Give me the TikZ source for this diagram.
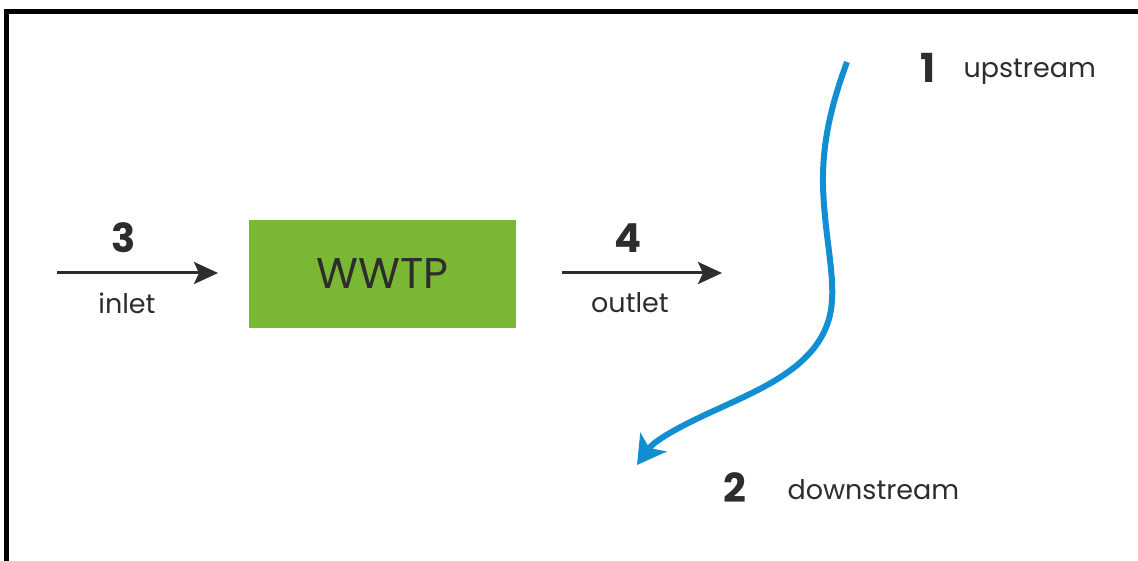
\documentclass[tikz,border=0pt]{standalone}
\usepackage{fontspec}
\setmainfont{Poppins}
\usetikzlibrary{arrows.meta}
\definecolor{wwtpgreen}{RGB}{122,184,51}
\definecolor{riverblue}{RGB}{18,142,210}
\definecolor{textgray}{RGB}{45,45,45}
\tikzset{
  flow/.style={line width=3pt, draw=textgray, -{Stealth[length=24pt,width=22pt,inset=5pt]}},
  num/.style={font=\fontsize{40}{40}\selectfont\bfseries, text=textgray},
  lbl/.style={font=\fontsize{27}{27}\selectfont, text=textgray}
}
\begin{document}
\begin{tikzpicture}[x=1pt,y=-1pt]
    \useasboundingbox (0,0) rectangle (1138,561);
    % frame, open at the right and bottom
    \draw[line width=5pt] (6.5,561) -- (6.5,11.5) -- (1138,11.5);
    % plant
    \node (plant) [fill=wwtpgreen, minimum width=267pt, minimum height=108pt,
      font=\fontsize{43}{43}\selectfont, text=textgray] at (382.5,274) {WWTP};
    % inlet and outlet
    \coordinate (inA) at (57,273);
    \coordinate (inB) at (218,273);
    \coordinate (outA) at (562,273);
    \coordinate (outB) at (722,273);
    \draw[flow] (inA) -- (inB);
    \draw[flow] (outA) -- (outB);
    \node (n3) [num] at (124,238) {3};
    \node (inlet) [lbl] at (127,303) {inlet};
    \node (n4) [num] at (628,238) {4};
    \node (outlet) [lbl] at (630,303) {outlet};
    % river
    \coordinate (up) at (847,62);
    \coordinate (down) at (637,465);
    \draw[line width=6pt, draw=riverblue, -{Stealth[length=28pt,width=32pt,inset=7pt]}]
      (up) .. controls (833,100) and (822,140) .. (823,185)
      .. controls (824,230) and (834,270) .. (832,300)
      .. controls (829,360) and (770,385) .. (720,408)
      .. controls (680,426) and (655,440) .. (down);
    \node (n1) [num] at (928,68) {1};
    \node (upstream) [lbl, anchor=west] at (960,72) {upstream};
    \node (n2) [num] at (735,488) {2};
    \node (downstream) [lbl, anchor=west] at (784,490) {downstream};
\end{tikzpicture}
\end{document}
